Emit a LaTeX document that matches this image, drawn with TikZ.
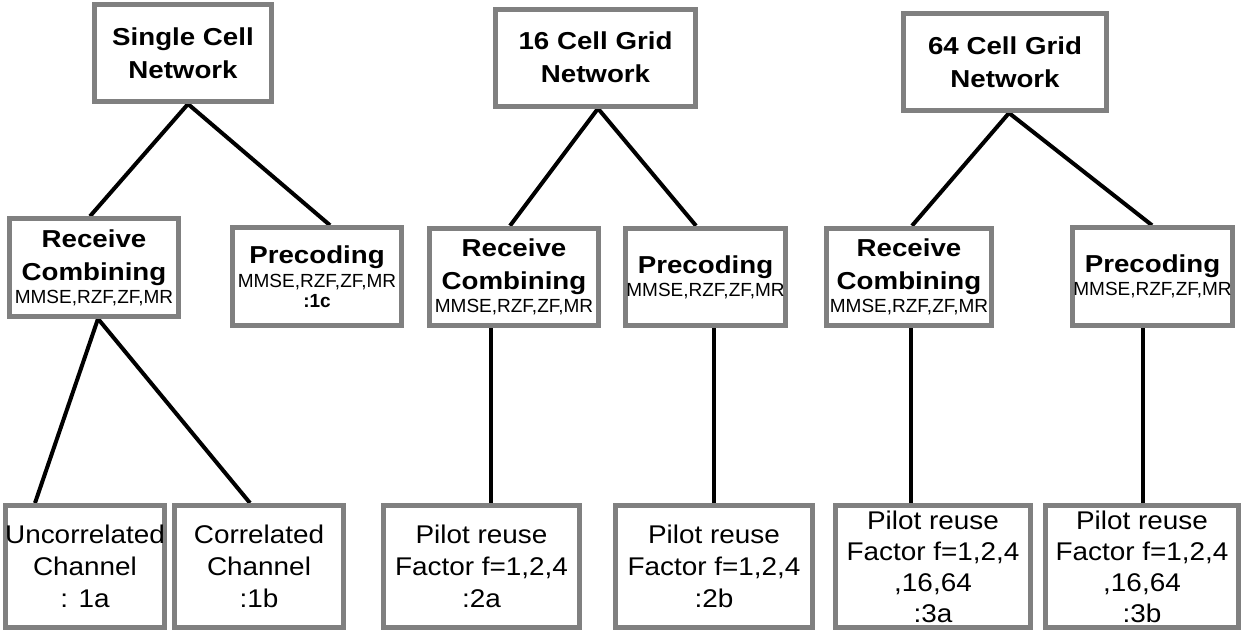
\documentclass[tikz,border=0pt]{standalone}
\usepackage{fontspec}
\setmainfont{Liberation Sans}
\newfontfamily\hdfont{Liberation Sans}[FakeStretch=1.13]
\newfontfamily\bodyfont{Liberation Sans}[FakeStretch=1.09]
\usetikzlibrary{backgrounds}
\definecolor{boxgray}{RGB}{128,128,128}
\newcommand\algfont{\normalfont\fontsize{19}{20}\selectfont}
\newcommand\algbold{\normalfont\fontsize{19}{20}\selectfont\bfseries}
\tikzset{
  box/.style={draw=boxgray, line width=5pt, fill=white, inner sep=0pt,
    align=center, minimum width=#1},
  titlebox/.style={box=#1, minimum height=97pt,
    font=\hdfont\bfseries\fontsize{24.5}{33}\selectfont},
  methodbox/.style={box=#1, minimum height=97.5pt,
    font=\hdfont\bfseries\fontsize{24.5}{23}\selectfont},
  leafbox/.style={box=#1, minimum height=122pt,
    font=\bodyfont\fontsize{25.6}{32}\selectfont},
  leaftall/.style={box=#1, minimum height=122pt,
    font=\bodyfont\fontsize{25.6}{31}\selectfont},
  link/.style={draw=black, line width=4pt},
}
\begin{document}
\begin{tikzpicture}[x=1pt, y=-1pt]
\useasboundingbox (0,0) rectangle (1244,632);

% top level: network types
\node[titlebox=177pt] (sc)  at (183,53)    {Single Cell\\Network};
\node[titlebox=200pt] (g16) at (595.5,57.5) {16 Cell Grid\\Network};
\node[titlebox=203pt] (g64) at (1005,62)   {64 Cell Grid\\Network};

% second level: combining and precoding schemes
\node[methodbox=169pt] (rc1) at (94,267.5)  {Receive\\[10pt]Combining\\{\algfont MMSE,RZF,ZF,MR}};
\node[methodbox=169pt, font=\hdfont\bfseries\fontsize{24.5}{20}\selectfont]
  (pc1) at (317,276.5) {Precoding\\[4pt]{\algfont MMSE,RZF,ZF,MR}\\{\algbold :1c}};
\node[methodbox=169pt] (rc2) at (514,277)   {Receive\\[10pt]Combining\\{\algfont MMSE,RZF,ZF,MR}};
\node[methodbox=160pt] (pc2) at (705.5,277) {Precoding\\{\algfont MMSE,RZF,ZF,MR}};
\node[methodbox=165pt] (rc3) at (909,277)   {Receive\\[10pt]Combining\\{\algfont MMSE,RZF,ZF,MR}};
\node[methodbox=160pt] (pc3) at (1152.5,276.5) {Precoding\\{\algfont MMSE,RZF,ZF,MR}};

% third level: channel models and pilot reuse
\node[leafbox=159pt] (u1a) at (85,566.5)    {Uncorrelated\\Channel\\: 1a};
\node[leafbox=169pt] (c1b) at (259,566.5)   {Correlated\\Channel\\:1b};
\node[leafbox=196pt] (p2a) at (481.5,566.5) {Pilot reuse\\Factor f=1,2,4\\:2a};
\node[leafbox=197pt] (p2b) at (714,566.5)   {Pilot reuse\\Factor f=1,2,4\\:2b};
\node[leaftall=195pt] (p3a) at (933,566.5)  {Pilot reuse\\Factor f=1,2,4\\,16,64\\:3a};
\node[leaftall=193pt] (p3b) at (1142,566.5) {Pilot reuse\\Factor f=1,2,4\\,16,64\\:3b};

% connectors, drawn beneath the boxes
\begin{scope}[on background layer]
  \draw[link] ([xshift=5pt]sc.south) -- ([xshift=-4pt]rc1.north);
  \draw[link] ([xshift=5pt]sc.south) -- ([xshift=13pt]pc1.north);
  \draw[link] ([xshift=2.5pt]g16.south) -- ([xshift=-4pt]rc2.north);
  \draw[link] ([xshift=2.5pt]g16.south) -- ([xshift=-9.5pt]pc2.north);
  \draw[link] ([xshift=4pt]g64.south) -- ([xshift=3pt]rc3.north);
  \draw[link] ([xshift=4pt]g64.south) -- ([xshift=-0.5pt]pc3.north);
  \draw[link] ([xshift=4pt]rc1.south) -- ([xshift=-50pt]u1a.north);
  \draw[link] ([xshift=4pt]rc1.south) -- ([xshift=-9pt]c1b.north);
  \draw[link] ([xshift=-23pt]rc2.south) -- ([xshift=-23pt]rc2.south |- p2a.north);
  \draw[link] ([xshift=8.5pt]pc2.south) -- ([xshift=8.5pt]pc2.south |- p2b.north);
  \draw[link] ([xshift=2pt]rc3.south) -- ([xshift=2pt]rc3.south |- p3a.north);
  \draw[link] ([xshift=-9.5pt]pc3.south) -- ([xshift=-9.5pt]pc3.south |- p3b.north);
\end{scope}
\end{tikzpicture}
\end{document}
